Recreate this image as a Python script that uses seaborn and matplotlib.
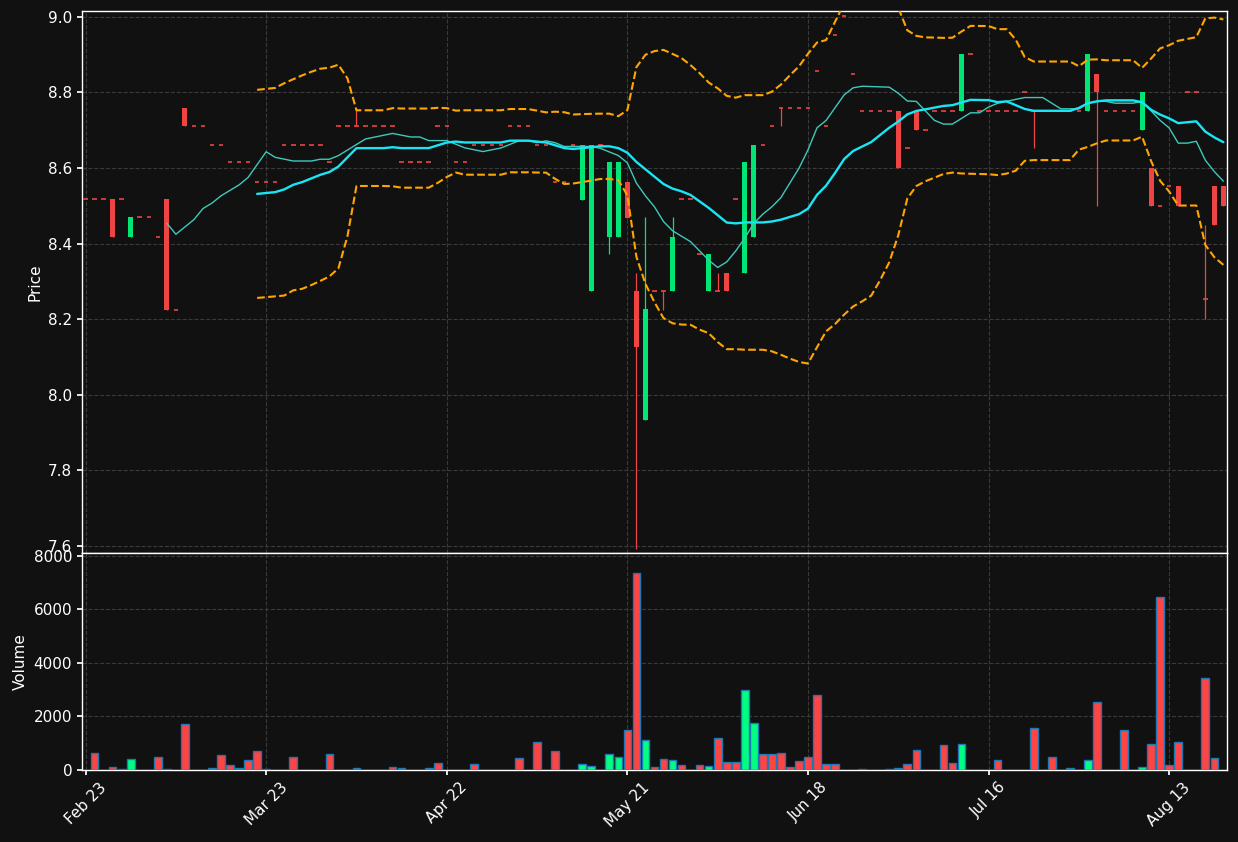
import numpy as np
import pandas as pd
import matplotlib
matplotlib.use("Agg")
import matplotlib.pyplot as plt
import seaborn as sns

# --- data (daily bars, index based x axis) ---
opens = [
    8.517, 8.517, 8.517, 8.517, 8.517, 8.418, 8.470, 8.470, 8.418, 8.517,
    8.224, 8.760, 8.711, 8.711, 8.662, 8.662, 8.615, 8.615, 8.615, 8.564,
    8.564, 8.564, 8.662, 8.662, 8.662, 8.662, 8.662, 8.615, 8.711, 8.711,
    8.711, 8.711, 8.711, 8.711, 8.711, 8.615, 8.615, 8.615, 8.615, 8.711,
    8.711, 8.615, 8.615, 8.662, 8.662, 8.662, 8.662, 8.711, 8.711, 8.711,
    8.662, 8.662, 8.564, 8.564, 8.662, 8.515, 8.273, 8.662, 8.418, 8.418,
    8.564, 8.273, 7.933, 8.273, 8.273, 8.273, 8.517, 8.517, 8.371, 8.273,
    8.273, 8.323, 8.517, 8.323, 8.418, 8.662, 8.711, 8.760, 8.760, 8.760,
    8.760, 8.858, 8.711, 8.952, 9.002, 8.850, 8.752, 8.752, 8.752, 8.752,
    8.752, 8.652, 8.752, 8.700, 8.752, 8.752, 8.752, 8.752, 8.901, 8.752,
    8.752, 8.752, 8.752, 8.752, 8.800, 8.752, 8.752, 8.752, 8.752, 8.752,
    8.752, 8.752, 8.850, 8.752, 8.752, 8.752, 8.752, 8.700, 8.600, 8.500,
    8.551, 8.551, 8.800, 8.800, 8.252, 8.551, 8.551,
]
highs = [
    8.517, 8.517, 8.517, 8.517, 8.517, 8.470, 8.470, 8.470, 8.418, 8.517,
    8.224, 8.760, 8.711, 8.711, 8.662, 8.662, 8.615, 8.615, 8.615, 8.564,
    8.564, 8.564, 8.662, 8.662, 8.662, 8.662, 8.662, 8.615, 8.711, 8.711,
    8.760, 8.711, 8.711, 8.711, 8.711, 8.615, 8.615, 8.615, 8.615, 8.711,
    8.711, 8.615, 8.615, 8.662, 8.662, 8.662, 8.662, 8.711, 8.711, 8.711,
    8.662, 8.662, 8.564, 8.564, 8.662, 8.662, 8.662, 8.662, 8.615, 8.615,
    8.564, 8.323, 8.469, 8.273, 8.273, 8.469, 8.517, 8.517, 8.371, 8.371,
    8.323, 8.323, 8.517, 8.615, 8.662, 8.662, 8.711, 8.760, 8.760, 8.760,
    8.760, 8.858, 8.711, 8.952, 9.002, 8.850, 8.752, 8.752, 8.752, 8.752,
    8.752, 8.652, 8.752, 8.700, 8.752, 8.752, 8.752, 8.901, 8.901, 8.752,
    8.752, 8.752, 8.752, 8.752, 8.800, 8.752, 8.752, 8.752, 8.752, 8.752,
    8.752, 8.901, 8.850, 8.752, 8.752, 8.752, 8.752, 8.800, 8.600, 8.500,
    8.551, 8.551, 8.800, 8.800, 8.450, 8.551, 8.551,
]
lows = [
    8.517, 8.517, 8.517, 8.418, 8.517, 8.418, 8.470, 8.470, 8.418, 8.224,
    8.224, 8.711, 8.711, 8.711, 8.662, 8.662, 8.615, 8.615, 8.615, 8.564,
    8.564, 8.564, 8.662, 8.662, 8.662, 8.662, 8.662, 8.615, 8.711, 8.711,
    8.711, 8.711, 8.711, 8.711, 8.711, 8.615, 8.615, 8.615, 8.615, 8.711,
    8.711, 8.615, 8.615, 8.662, 8.662, 8.662, 8.662, 8.711, 8.711, 8.711,
    8.662, 8.662, 8.564, 8.564, 8.662, 8.515, 8.273, 8.662, 8.371, 8.418,
    8.468, 7.590, 7.933, 8.273, 8.225, 8.273, 8.517, 8.517, 8.371, 8.273,
    8.273, 8.273, 8.517, 8.323, 8.418, 8.662, 8.711, 8.711, 8.760, 8.760,
    8.760, 8.858, 8.711, 8.952, 9.002, 8.850, 8.752, 8.752, 8.752, 8.752,
    8.600, 8.652, 8.700, 8.700, 8.752, 8.752, 8.752, 8.752, 8.901, 8.752,
    8.752, 8.752, 8.752, 8.752, 8.800, 8.652, 8.752, 8.752, 8.752, 8.752,
    8.752, 8.752, 8.500, 8.752, 8.752, 8.752, 8.752, 8.700, 8.500, 8.500,
    8.551, 8.500, 8.800, 8.800, 8.200, 8.449, 8.500,
]
closes = [
    8.517, 8.517, 8.517, 8.418, 8.517, 8.470, 8.470, 8.470, 8.418, 8.224,
    8.224, 8.711, 8.711, 8.711, 8.662, 8.662, 8.615, 8.615, 8.615, 8.564,
    8.564, 8.564, 8.662, 8.662, 8.662, 8.662, 8.662, 8.615, 8.711, 8.711,
    8.711, 8.711, 8.711, 8.711, 8.711, 8.615, 8.615, 8.615, 8.615, 8.711,
    8.711, 8.615, 8.615, 8.662, 8.662, 8.662, 8.662, 8.711, 8.711, 8.711,
    8.662, 8.662, 8.564, 8.564, 8.662, 8.662, 8.662, 8.662, 8.615, 8.615,
    8.468, 8.126, 8.226, 8.273, 8.273, 8.418, 8.517, 8.517, 8.371, 8.371,
    8.273, 8.273, 8.517, 8.615, 8.662, 8.662, 8.711, 8.760, 8.760, 8.760,
    8.760, 8.858, 8.711, 8.952, 9.002, 8.850, 8.752, 8.752, 8.752, 8.752,
    8.600, 8.652, 8.700, 8.700, 8.752, 8.752, 8.752, 8.901, 8.901, 8.752,
    8.752, 8.752, 8.752, 8.752, 8.800, 8.752, 8.752, 8.752, 8.752, 8.752,
    8.752, 8.901, 8.800, 8.752, 8.752, 8.752, 8.752, 8.800, 8.500, 8.500,
    8.551, 8.500, 8.800, 8.800, 8.252, 8.449, 8.500,
]
volumes = [
    0, 630, 0, 100, 40, 400, 0, 0, 480, 40,
    0, 1700, 0, 0, 60, 560, 180, 60, 370, 710,
    25, 0, 0, 480, 0, 0, 0, 600, 0, 0,
    60, 0, 0, 0, 100, 60, 0, 0, 60, 250,
    0, 0, 0, 220, 0, 0, 0, 0, 440, 0,
    1050, 0, 710, 0, 0, 220, 140, 0, 600, 480,
    1500, 7370, 1130, 100, 400, 370, 180, 0, 180, 140,
    1200, 290, 290, 3000, 1770, 600, 600, 630, 100, 330,
    480, 2800, 220, 220, 0, 0, 25, 0, 0, 25,
    60, 220, 750, 0, 0, 940, 250, 970, 0, 0,
    0, 370, 0, 0, 0, 1580, 0, 480, 0, 60,
    0, 370, 2530, 0, 0, 1500, 0, 100, 970, 6470,
    180, 1050, 0, 0, 3420, 440, 0,
]
tick_labels = ["Feb 23", "Mar 23", "Apr 22", "May 21", "Jun 18", "Jul 16", "Aug 13"]

df = pd.DataFrame({"open": opens, "high": highs, "low": lows,
                   "close": closes, "volume": volumes})
df["x"] = np.arange(len(df))

# indicators: 10 / 20 day means and 20 day bands
df["ma10"] = df["close"].rolling(10).mean()
df["ma20"] = df["close"].rolling(20).mean()
sd20 = df["close"].rolling(20).std(ddof=0)
df["upper"] = df["ma20"] + 2 * sd20
df["lower"] = df["ma20"] - 2 * sd20

BG = "#111111"
UP, DOWN = "#00e676", "#ef4444"
VOL_UP, VOL_DOWN = "#00ff80", "#ff4444"

sns.set_theme(style="darkgrid", rc={
    "figure.facecolor": BG, "axes.facecolor": BG, "axes.edgecolor": "white",
    "axes.labelcolor": "white", "xtick.color": "white", "ytick.color": "white",
    "text.color": "white", "grid.color": "#3a3a3a", "grid.linestyle": "--",
    "grid.linewidth": 0.8, "xtick.bottom": True, "ytick.left": True,
})
plt.rcParams["font.family"] = ["DejaVu Sans"]

fig = plt.figure(figsize=(12.38, 8.42), dpi=100)
gs = fig.add_gridspec(2, 1, height_ratios=[541, 217], hspace=0,
                      left=0.0662, right=0.9911, top=0.987, bottom=0.0855)
ax = fig.add_subplot(gs[0])
axv = fig.add_subplot(gs[1], sharex=ax)

up = df["close"] > df["open"]
cols = np.where(up, UP, DOWN)

# wicks
ax.vlines(df["x"], df["low"], df["high"], colors=cols, linewidth=0.9, zorder=2)
# bodies
body_lo = df[["open", "close"]].min(axis=1)
body_h = (df["close"] - df["open"]).abs()
ax.bar(df["x"], body_h, bottom=body_lo, width=0.55, color=cols, linewidth=0, zorder=3)
# flat candles
flat = df[df["open"] == df["close"]]
ax.hlines(flat["close"], flat["x"] - 0.25, flat["x"] + 0.25, colors=DOWN,
          linewidth=1.2, zorder=3)

sns.lineplot(data=df, x="x", y="ma10", ax=ax, color="#3fc9bb", linewidth=1.0, zorder=4)
sns.lineplot(data=df, x="x", y="ma20", ax=ax, color="#19e6f5", linewidth=1.7, zorder=4)
sns.lineplot(data=df, x="x", y="upper", ax=ax, color="#ffa500", linewidth=1.5,
             linestyle="--", zorder=4)
sns.lineplot(data=df, x="x", y="lower", ax=ax, color="#ffa500", linewidth=1.5,
             linestyle="--", zorder=4)

ax.set_ylim(7.581, 9.016)
ax.set_yticks(np.arange(7.6, 9.01, 0.2))
ax.yaxis.set_major_formatter(matplotlib.ticker.FormatStrFormatter("%.1f"))
ax.set_ylabel("Price", fontsize=11)
ax.set_xlabel("")
plt.setp(ax.get_xticklabels(), visible=False)

# volume
vcols = np.where(up, VOL_UP, VOL_DOWN)
axv.bar(df["x"], df["volume"], width=0.85, color=vcols, edgecolor="#1f77b4",
        linewidth=1.0, zorder=3)
axv.set_ylim(0, 8110)
axv.set_yticks([0, 2000, 4000, 6000, 8000])
axv.set_ylabel("Volume", fontsize=11)

axv.set_xlim(-0.4, len(df) - 0.6)
axv.set_xticks(range(0, len(df), 20))
axv.set_xticklabels(tick_labels, rotation=45)

for a in (ax, axv):
    a.grid(True, color="#3a3a3a", linestyle="--", linewidth=0.8)
    a.tick_params(colors="white", labelsize=11, length=3.5)
    for s in a.spines.values():
        s.set_color("white")
        s.set_linewidth(1.0)

fig.savefig("out.png", dpi=100, facecolor=BG)
